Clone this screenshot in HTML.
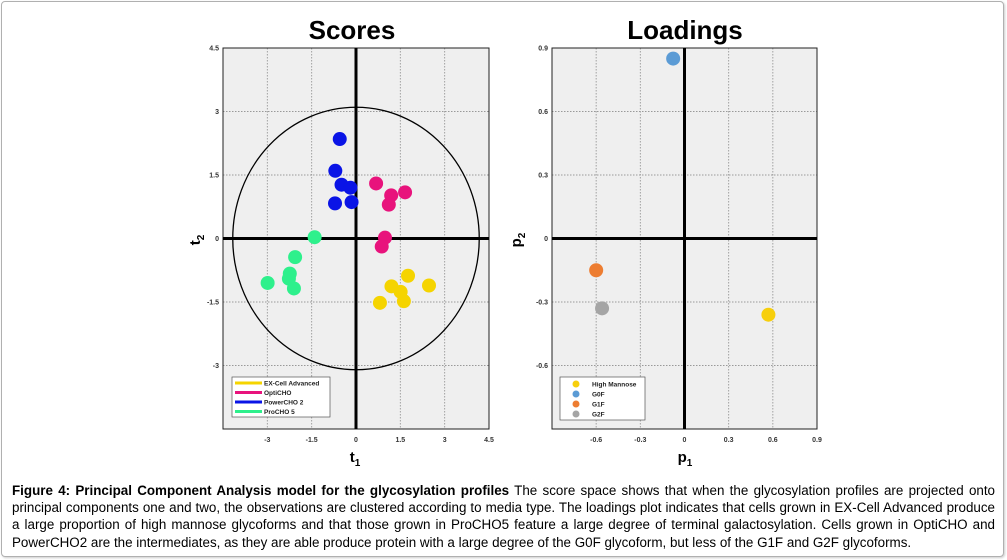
<!DOCTYPE html>
<html><head><meta charset="utf-8"><style>
body{margin:0;background:#fff;}
#wrap{position:relative;width:1007px;height:560px;overflow:hidden;font-family:"Liberation Sans",Arial,sans-serif;}
#frame{position:absolute;left:1px;top:1px;width:1001px;height:554px;border:1px solid #b0b0b0;border-radius:4px;box-shadow:1px 1px 2px #ccc;}
#cap{position:absolute;left:12px;top:482px;width:983px;font-size:13.4px;line-height:17.2px;color:#000;}
#cap .j{text-align:justify;text-align-last:justify;white-space:nowrap;}
svg{position:absolute;left:0;top:0;}
</style></head><body>
<div id="wrap">
<div id="frame"></div>
<svg id="chart" width="1007" height="480"></svg>
<div id="cap">
<div class="j"><b>Figure 4: Principal Component Analysis model for the glycosylation profiles</b> The score space shows that when the glycosylation profiles are projected onto</div>
<div class="j">principal components one and two, the observations are clustered according to media type. The loadings plot indicates that cells grown in EX-Cell Advanced produce</div>
<div class="j">a large proportion of high mannose glycoforms and that those grown in ProCHO5 feature a large degree of terminal galactosylation. Cells grown in OptiCHO and</div>
<div>PowerCHO2 are the intermediates, as they are able produce protein with a large degree of the G0F glycoform, but less of the G1F and G2F glycoforms.</div>
</div>
</div>
<script>
const scoreGroups = ["EX-Cell Advanced","OptiCHO","PowerCHO 2","ProCHO 5"];
const scoreColors = ["#f5d400","#e8137c","#0a14e6","#2ef08c"];
const exX = [1.76,2.47,1.2,1.51,1.62,0.81];
const exY = [-0.88,-1.11,-1.13,-1.26,-1.48,-1.52];
const optiX = [0.68,1.19,1.66,1.11,0.98,0.87];
const optiY = [1.3,1.02,1.09,0.8,0.02,-0.19];
const powX = [-0.55,-0.7,-0.49,-0.19,-0.71,-0.15];
const powY = [2.35,1.6,1.27,1.2,0.83,0.86];
const proX = [-1.4,-2.06,-2.24,-2.27,-2.1,-2.99];
const proY = [0.03,-0.44,-0.83,-0.95,-1.18,-1.05];
const scoreTicks = [-3,-1.5,0,1.5,3,4.5];
const scoreTickLabels = ["-3","-1.5","0","1.5","3","4.5"];
const ellipseRx = 4.17, ellipseRy = 3.1;
const loadNames = ["High Mannose","G0F","G1F","G2F"];
const loadColors = ["#f7cf0c","#5b9bd5","#ed7d31","#a5a5a5"];
const loadX = [0.57,-0.077,-0.6,-0.56];
const loadY = [-0.36,0.85,-0.15,-0.33];
const loadTicks = [-0.6,-0.3,0,0.3,0.6,0.9];
const loadTickLabels = ["-0.6","-0.3","0","0.3","0.6","0.9"];

const NS="http://www.w3.org/2000/svg";
const svg=document.getElementById('chart');
function el(tag,attrs,parent){const e=document.createElementNS(NS,tag);for(const k in attrs)e.setAttribute(k,attrs[k]);(parent||svg).appendChild(e);return e;}
function txt(x,y,s,attrs,parent){const t=el('text',Object.assign({x:x,y:y},attrs),parent);t.textContent=s;return t;}

function panel(cfg){
  const g=el('g',{});
  
  
  const L=cfg.left,R=cfg.right,T=48,B=429;
  const sx=v=>L+(v-cfg.min)/(cfg.max-cfg.min)*(R-L);
  const sy=v=>B-(v-cfg.min)/(cfg.max-cfg.min)*(B-T);
  const bg=el('rect',{x:L,y:T,width:R-L,height:B-T,fill:'#efefef',stroke:'none'},g);
  
  
  cfg.ticks.forEach((v,i)=>{
    const gx=el('line',{x1:sx(v),x2:sx(v),y1:T,y2:B,stroke:'#999','stroke-width':0.9,'stroke-dasharray':'1.5,1.5'},g);
    
    
    const gy=el('line',{x1:L,x2:R,y1:sy(v),y2:sy(v),stroke:'#999','stroke-width':0.9,'stroke-dasharray':'1.5,1.5'},g);
    
    
    const tx=txt(sx(v),442,cfg.tickLabels[i],{'font-size':7,'text-anchor':'middle',fill:'#333','font-weight':'bold'},g);
    
    
  });
  cfg.yTicks.forEach((v,i)=>{
    const ty=txt(L-4,sy(v)+2.5,cfg.yTickLabels[i],{'font-size':7,'text-anchor':'end',fill:'#333','font-weight':'bold'},g);
    
    
  });
  const frame=el('rect',{x:L,y:T,width:R-L,height:B-T,fill:'none',stroke:'#222','stroke-width':1},g);
  
  
  const ax=el('line',{x1:L,x2:R,y1:sy(0),y2:sy(0),stroke:'#000','stroke-width':3},g);
  
  
  const ay=el('line',{x1:sx(0),x2:sx(0),y1:T,y2:B,stroke:'#000','stroke-width':3},g);
  
  
  return {g,sx,sy,L,R,T,B};
}

const S=panel({name:'scores-plot',left:223,right:489,min:-4.5,max:4.5,ticks:scoreTicks,tickLabels:scoreTickLabels,yTicks:[-3,-1.5,0,1.5,3,4.5],yTickLabels:["-3","-1.5","0","1.5","3","4.5"]});
const ell=el('ellipse',{cx:S.sx(0),cy:S.sy(0),rx:S.sx(ellipseRx)-S.sx(0),ry:S.sy(0)-S.sy(ellipseRy),fill:'none',stroke:'#000','stroke-width':1.3},S.g);


const sxs=[exX,optiX,powX,proX], sys=[exY,optiY,powY,proY];
sxs.forEach((xs,gi)=>{xs.forEach((x,i)=>{
  const c=el('circle',{cx:S.sx(x),cy:S.sy(sys[gi][i]),r:7,fill:scoreColors[gi]},S.g);
  
  
});});
const lg=el('g',{},S.g);


el('rect',{x:232,y:377,width:98,height:40,fill:'#fff',stroke:'#555','stroke-width':0.7},lg);
scoreGroups.forEach((n,i)=>{
  const y=383+i*9.5;
  const ln=el('line',{x1:235,x2:262,y1:y,y2:y,stroke:scoreColors[i],'stroke-width':3},lg);
  
  
  const t=txt(264,y+2.5,n,{'font-size':6.5,'font-weight':'bold',fill:'#222'},lg);
  
  
});

const P=panel({name:'loadings-plot',left:552,right:817,min:-0.9,max:0.9,ticks:loadTicks,tickLabels:loadTickLabels,yTicks:[-0.6,-0.3,0,0.3,0.6,0.9],yTickLabels:["-0.6","-0.3","0","0.3","0.6","0.9"]});
loadX.forEach((x,i)=>{
  const c=el('circle',{cx:P.sx(x),cy:P.sy(loadY[i]),r:7,fill:loadColors[i]},P.g);
  
  
});
const lg2=el('g',{},P.g);


el('rect',{x:560,y:377,width:85,height:43,fill:'#fff',stroke:'#555','stroke-width':0.7},lg2);
loadNames.forEach((n,i)=>{
  const y=384+i*10;
  const c=el('circle',{cx:576,cy:y,r:3.5,fill:loadColors[i]},lg2);
  
  
  const t=txt(592,y+2.5,n,{'font-size':6.5,'font-weight':'bold',fill:'#222'},lg2);
  
  
});

const t1=txt(352,39,'Scores',{'font-size':26,'font-weight':'bold','text-anchor':'middle'});


const t2=txt(685,39,'Loadings',{'font-size':26,'font-weight':'bold','text-anchor':'middle'});


function sub(x,y,main,s,name,rot){
  const t=el('text',{x:x,y:y,'font-size':15,'font-weight':'bold','text-anchor':'middle'});
  if(rot)t.setAttribute('transform','rotate(-90 '+x+' '+y+')');
  
  
  const a=el('tspan',{},t);a.textContent=main;
  const b=el('tspan',{'font-size':10,dy:4},t);b.textContent=s;
  return t;
}
sub(355,462,'t','1','x-axis-title',false);
sub(200,240,'t','2','y-axis-title',true);
sub(685,462,'p','1','x-axis-title-loadings',false);
sub(521,240,'p','2','y-axis-title-loadings',true);
</script>
</body></html>
